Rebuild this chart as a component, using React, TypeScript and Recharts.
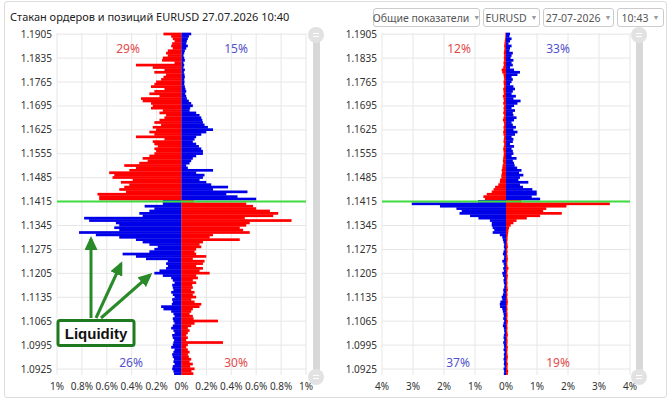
import { BarChart, Bar, XAxis, YAxis, CartesianGrid, ReferenceLine, Cell } from 'recharts'

const TOP_PRICE = 1.1905
const PRICE_STEP = 0.0007
const LAST_PRICE = '1.1415'

const priceTicks = [
  '1.1905', '1.1835', '1.1765', '1.1695', '1.1625', '1.1555', '1.1485', '1.1415',
  '1.1345', '1.1275', '1.1205', '1.1135', '1.1065', '1.0995', '1.0925',
]
const ordersTicks = [-1, -0.8, -0.6, -0.4, -0.2, 0, 0.2, 0.4, 0.6, 0.8, 1]
const positionsTicks = [-4, -3, -2, -1, 0, 1, 2, 3, 4]

// order book, % per price level; "upper" = levels above current price
const ordersUpperLeft = [
  0.145, 0.083, 0.07, 0.056, 0.075, 0.083, 0.07, 0.11, 0.124, 0.11,
  0.15, 0.156, 0.056, 0.366, 0.231, 0.137, 0.218, 0.124, 0.145, 0.164,
  0.204, 0.218, 0.245, 0.137, 0.218, 0.258, 0.177, 0.325, 0.312, 0.245,
  0.231, 0.245, 0.15, 0.177, 0.124, 0.137, 0.177, 0.218, 0.164, 0.231,
  0.204, 0.258, 0.218, 0.366, 0.137, 0.231, 0.218, 0.191, 0.218, 0.204,
  0.218, 0.258, 0.312, 0.272, 0.339, 0.46, 0.366, 0.419, 0.581, 0.54,
  0.554, 0.392, 0.487, 0.419, 0.46, 0.5, 0.446, 0.675, 0.661, 0.661,
]
const ordersUpperRight = [
  0.078, 0.059, 0.051, 0.043, 0.038, 0.051, 0.038, 0.027, 0.022, 0.016,
  0.022, 0.027, 0.016, 0.022, 0.016, 0.027, 0.019, 0.024, 0.027, 0.022,
  0.024, 0.022, 0.027, 0.032, 0.038, 0.03, 0.038, 0.043, 0.059, 0.078,
  0.091, 0.07, 0.065, 0.118, 0.145, 0.159, 0.167, 0.172, 0.185, 0.212,
  0.253, 0.199, 0.159, 0.118, 0.105, 0.091, 0.118, 0.14, 0.159, 0.172,
  0.172, 0.118, 0.091, 0.078, 0.065, 0.038, 0.051, 0.253, 0.118, 0.185,
  0.172, 0.145, 0.199, 0.239, 0.374, 0.253, 0.53, 0.36, 0.45, 0.6,
]
const ordersLowerLeft = [
  0.15, 0.15, 0.296, 0.218, 0.258, 0.339, 0.312, 0.782, 0.742, 0.527,
  0.5, 0.54, 0.5, 0.823, 0.688, 0.5, 0.366, 0.312, 0.258, 0.191,
  0.218, 0.258, 0.473, 0.366, 0.285, 0.11, 0.124, 0.11, 0.124, 0.177,
  0.218, 0.15, 0.083, 0.07, 0.056, 0.075, 0.07, 0.065, 0.083, 0.07,
  0.056, 0.075, 0.07, 0.078, 0.164, 0.145, 0.083, 0.065, 0.056, 0.07,
  0.065, 0.056, 0.07, 0.083, 0.065, 0.056, 0.075, 0.07, 0.059, 0.065,
  0.07, 0.083, 0.056, 0.065, 0.075, 0.07, 0.06, 0.065, 0.056, 0.07,
  0.075, 0.065, 0.06,
]
const ordersLowerRight = [
  0.1, 0.52, 0.575, 0.6, 0.71, 0.777, 0.737, 0.508, 0.884, 0.548,
  0.52, 0.468, 0.495, 0.548, 0.253, 0.226, 0.468, 0.172, 0.145, 0.159,
  0.118, 0.105, 0.118, 0.199, 0.091, 0.185, 0.172, 0.118, 0.172, 0.145,
  0.226, 0.118, 0.132, 0.091, 0.118, 0.086, 0.091, 0.078, 0.105, 0.091,
  0.118, 0.078, 0.105, 0.159, 0.145, 0.091, 0.078, 0.065, 0.091, 0.097,
  0.293, 0.105, 0.078, 0.051, 0.065, 0.051, 0.038, 0.051, 0.038, 0.333,
  0.051, 0.038, 0.051, 0.065, 0.051, 0.059, 0.078, 0.065, 0.091, 0.07,
  0.105, 0.08, 0.095,
]

// open positions, % per price level
const positionsUpperLeft = [
  0.02, 0.02, 0.03, 0.04, 0.05, 0.06, 0.05, 0.06, 0.07, 0.06,
  0.07, 0.06, 0.08, 0.07, 0.09, 0.14, 0.12, 0.08, 0.07, 0.06,
  0.08, 0.07, 0.06, 0.09, 0.08, 0.07, 0.1, 0.08, 0.07, 0.09,
  0.06, 0.08, 0.07, 0.09, 0.06, 0.08, 0.1, 0.07, 0.06, 0.08,
  0.07, 0.09, 0.08, 0.06, 0.07, 0.08, 0.06, 0.07, 0.09, 0.08,
  0.07, 0.08, 0.09, 0.1, 0.09, 0.11, 0.12, 0.14, 0.13, 0.15,
  0.15, 0.19, 0.2, 0.25, 0.35, 0.4, 0.46, 0.62, 0.73, 0.68,
]
const positionsUpperRight = [
  0.13, 0.11, 0.18, 0.13, 0.08, 0.18, 0.13, 0.11, 0.22, 0.18,
  0.15, 0.24, 0.18, 0.22, 0.13, 0.26, 0.45, 0.37, 0.18, 0.22,
  0.18, 0.13, 0.24, 0.29, 0.22, 0.18, 0.32, 0.24, 0.47, 0.37,
  0.26, 0.18, 0.29, 0.22, 0.24, 0.34, 0.26, 0.18, 0.22, 0.32,
  0.24, 0.37, 0.29, 0.18, 0.24, 0.22, 0.13, 0.26, 0.18, 0.22,
  0.24, 0.18, 0.34, 0.22, 0.26, 0.28, 0.36, 0.5, 0.42, 0.56,
  0.45, 0.4, 0.72, 0.45, 0.55, 0.85, 0.99, 0.99, 0.83, 1.1,
]
const positionsLowerLeft = [
  0.9, 3.04, 2.13, 1.6, 1.43, 1.5, 1.16, 0.89, 0.52, 0.46,
  0.46, 0.43, 0.38, 0.43, 0.2, 0.12, 0.1, 0.08, 0.06, 0.07,
  0.05, 0.08, 0.1, 0.06, 0.07, 0.12, 0.08, 0.06, 0.09, 0.07,
  0.12, 0.1, 0.06, 0.08, 0.07, 0.05, 0.06, 0.09, 0.08, 0.1,
  0.14, 0.12, 0.18, 0.2, 0.19, 0.12, 0.1, 0.08, 0.07, 0.09,
  0.06, 0.08, 0.1, 0.07, 0.06, 0.05, 0.07, 0.08, 0.06, 0.09,
  0.07, 0.06, 0.08, 0.05, 0.07, 0.06, 0.08, 0.06, 0.07, 0.05,
  0.08, 0.06, 0.07,
]
const positionsLowerRight = [
  0.5, 3.35, 1.95, 1.3, 1.2, 1.8, 1.1, 0.67, 0.34, 0.24,
  0.15, 0.1, 0.08, 0.07, 0.06, 0.05, 0.05, 0.04, 0.05, 0.06,
  0.04, 0.05, 0.04, 0.05, 0.06, 0.05, 0.04, 0.05, 0.08, 0.05,
  0.04, 0.06, 0.05, 0.04, 0.05, 0.04, 0.05, 0.06, 0.04, 0.05,
  0.04, 0.05, 0.06, 0.05, 0.04, 0.05, 0.04, 0.05, 0.05, 0.04,
  0.06, 0.05, 0.04, 0.05, 0.04, 0.05, 0.06, 0.04, 0.05, 0.05,
  0.04, 0.06, 0.05, 0.04, 0.05, 0.06, 0.05, 0.04, 0.06, 0.05,
  0.05, 0.07, 0.06,
]

const RED = '#ff0000'
const BLUE = '#0000e8'
const FONT = '"Noto Sans", "Open Sans", sans-serif'

type Row = { price: string; left: number; right: number; upper: boolean }

function buildRows(upLeft: number[], upRight: number[], lowLeft: number[], lowRight: number[]): Row[] {
  const left = [...upLeft, ...lowLeft]
  const right = [...upRight, ...lowRight]
  return left.map((v, i) => ({
    price: (TOP_PRICE - i * PRICE_STEP).toFixed(4),
    left: -v,
    right: right[i],
    upper: i < upLeft.length,
  }))
}

const ordersRows = buildRows(ordersUpperLeft, ordersUpperRight, ordersLowerLeft, ordersLowerRight)
const positionsRows = buildRows(positionsUpperLeft, positionsUpperRight, positionsLowerLeft, positionsLowerRight)

// horizontal grid only at labelled prices, in the middle of their band
const makeGridY = (rows: Row[]) => ({ offset }: any) => {
  const band = offset.height / rows.length
  return priceTicks.map((p) => {
    const idx = rows.findIndex((r) => r.price === p)
    return offset.top + (idx + 0.5) * band
  })
}

// thin rows overlap a little so neighbouring levels read as one solid mass
const LevelBar = (props: any) => {
  const { x, y, width, height, fill } = props
  if (!width || !height) return <g />
  const x0 = Math.min(x, x + width)
  return <rect x={x0} y={y - 0.35} width={Math.abs(width)} height={height + 0.7} fill={fill} />
}

function BookChart({ rows, domain, ticks, yWidth, rightGap }: {
  rows: Row[]; domain: [number, number]; ticks: number[]; yWidth: number; rightGap: number
}) {
  return (
    <BarChart
      layout="vertical"
      width={320}
      height={403}
      data={rows}
      margin={{ top: 33, right: rightGap, left: 0, bottom: 0 }}
      barCategoryGap={0}
      barGap={0}
      stackOffset="sign"
    >
      <CartesianGrid stroke="#e6e6e6" horizontalCoordinatesGenerator={makeGridY(rows)} />
      <XAxis
        type="number"
        domain={domain}
        ticks={ticks}
        interval={0}
        allowDataOverflow
        height={28}
        axisLine={false}
        tickLine={false}
        tick={{ fontSize: 10, fill: '#333', fontFamily: FONT }}
        tickFormatter={(v: number) => `${Math.abs(v)}%`}
      />
      <YAxis
        type="category"
        dataKey="price"
        ticks={priceTicks}
        interval={0}
        width={yWidth}
        axisLine={false}
        tickLine={false}
        tickSize={3}
        tick={{ fontSize: 10, fill: '#333', fontFamily: FONT }}
      />
      <Bar dataKey="left" stackId="book" shape={LevelBar} isAnimationActive={false}>
        {rows.map((r, i) => <Cell key={i} fill={r.upper ? RED : BLUE} />)}
      </Bar>
      <Bar dataKey="right" stackId="book" shape={LevelBar} isAnimationActive={false}>
        {rows.map((r, i) => <Cell key={i} fill={r.upper ? BLUE : RED} />)}
      </Bar>
      <ReferenceLine y={LAST_PRICE} stroke="#3fdc3f" strokeWidth={2} />
    </BarChart>
  )
}

function Share({ x, y, text, color }: { x: number; y: number; text: string; color: string }) {
  return (
    <div style={{ position: 'absolute', left: x, top: y, transform: 'translate(-50%, -50%)', color, fontSize: 12, fontFamily: FONT }}>
      {text}
    </div>
  )
}

function Scroller({ x }: { x: number }) {
  const knob = (top: number) => (
    <div style={{ position: 'absolute', left: x - 8, top: top - 8, width: 16, height: 16, borderRadius: '50%', background: '#e2e2e2' }}>
      <div style={{ position: 'absolute', left: 5, top: 6, width: 6, height: 1, background: '#fff' }} />
      <div style={{ position: 'absolute', left: 5, top: 9, width: 6, height: 1, background: '#fff' }} />
    </div>
  )
  return (
    <>
      <div style={{ position: 'absolute', left: x - 3.5, top: 35, width: 7, height: 342, background: '#d8d8d8', borderRadius: 3 }} />
      {knob(35)}
      {knob(377)}
    </>
  )
}

function Select({ left, width, text }: { left: number; width: number; text: string }) {
  return (
    <div style={{
      position: 'absolute', left, top: 8, width, height: 19, boxSizing: 'border-box',
      border: '1px solid #ccc', borderRadius: 3, fontSize: 10.5, color: '#555', fontFamily: FONT,
      display: 'flex', alignItems: 'center', justifyContent: 'center', whiteSpace: 'nowrap',
    }}>
      {text}<span style={{ fontSize: 7, color: '#999', marginLeft: 4 }}>▼</span>
    </div>
  )
}

export default function App() {
  const green = '#2a8a2a'
  return (
    <div style={{ position: 'absolute', left: 0, top: 0, width: 669, height: 403, background: '#fff', overflow: 'hidden' }}>
      <div style={{ position: 'absolute', left: 4, top: 1, width: 661, height: 395, border: '1px solid #dcdcdc', borderRadius: 3 }} />
      <div style={{ position: 'absolute', left: 10, top: 9, fontSize: 11, color: '#222', fontFamily: FONT }}>
        Стакан ордеров и позиций EURUSD 27.07.2026 10:40
      </div>
      <Select left={373} width={107} text="Общие показатели" />
      <Select left={483} width={57} text="EURUSD" />
      <Select left={543} width={71} text="27-07-2026" />
      <Select left={617} width={47} text="10:43" />

      <div style={{ position: 'absolute', left: 0, top: 0 }}>
        <BookChart rows={ordersRows} domain={[-1, 1]} ticks={ordersTicks} yWidth={57} rightGap={14} />
      </div>
      <div style={{ position: 'absolute', left: 326, top: 0 }}>
        <BookChart rows={positionsRows} domain={[-4, 4]} ticks={positionsTicks} yWidth={56} rightGap={16} />
      </div>

      <Share x={128} y={48} text="29%" color="#e24a4a" />
      <Share x={236} y={48} text="15%" color="#5252cc" />
      <Share x={131} y={362} text="26%" color="#5252cc" />
      <Share x={236} y={362} text="30%" color="#e24a4a" />
      <Share x={459} y={48} text="12%" color="#e24a4a" />
      <Share x={558} y={48} text="33%" color="#5252cc" />
      <Share x={458} y={362} text="37%" color="#5252cc" />
      <Share x={558} y={362} text="19%" color="#e24a4a" />

      <Scroller x={316} />
      <Scroller x={639} />

      <svg width={669} height={403} style={{ position: 'absolute', left: 0, top: 0, pointerEvents: 'none' }}>
        <defs>
          <marker id="head" markerUnits="userSpaceOnUse" markerWidth={14} markerHeight={13} refX={11} refY={6.5} orient="auto">
            <path d="M0,0 L14,6.5 L0,13 z" fill={green} />
          </marker>
        </defs>
        <line x1={91} y1={318} x2={91} y2={239} stroke={green} strokeWidth={3} markerEnd="url(#head)" />
        <line x1={96} y1={318} x2={121} y2={264} stroke={green} strokeWidth={3} markerEnd="url(#head)" />
        <line x1={101} y1={318} x2={150} y2={275} stroke={green} strokeWidth={3} markerEnd="url(#head)" />
        <rect x={58} y={320.5} width={76} height={25} rx={2} fill="#fff" stroke="#1f7a1f" strokeWidth={3} />
        <text x={96} y={338.5} textAnchor="middle" fontFamily='"Liberation Sans", Arial, sans-serif' fontWeight="bold" fontSize={15} fill="#111">
          Liquidity
        </text>
      </svg>
    </div>
  )
}
